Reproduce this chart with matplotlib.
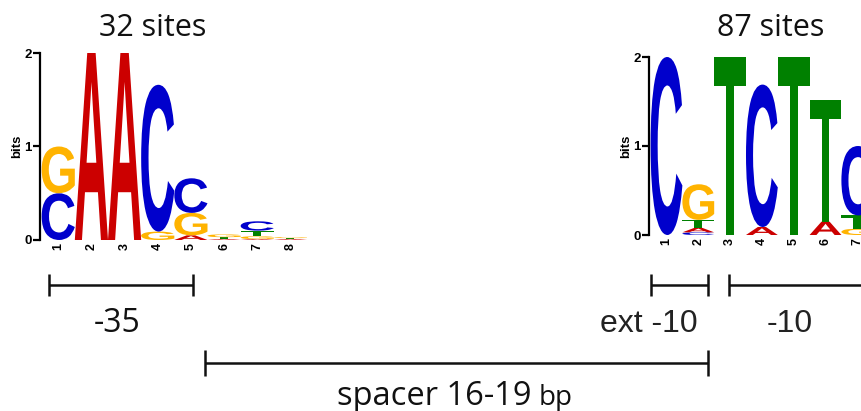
import matplotlib
matplotlib.use("Agg")
import matplotlib.pyplot as plt
from matplotlib.font_manager import FontProperties
from matplotlib.patches import PathPatch
from matplotlib.path import Path
from matplotlib.textpath import TextPath

W, H = 862, 411

# -35 box motif: letters stacked bottom -> top with their heights in bits
LEFT_TITLE = "32 sites"
LEFT_LETTERS = [["C", "G"], ["A"], ["A"], ["G", "C"], ["A", "G", "C"],
                ["A", "T", "G"], ["A", "G", "T", "C"], ["A", "T", "G"]]
LEFT_HEIGHTS = [[0.50, 0.50], [2.0], [2.0], [0.09, 1.57], [0.05, 0.24, 0.37],
                [0.01, 0.02, 0.03], [0.01, 0.03, 0.06, 0.10], [0.01, 0.01, 0.01]]

# extended -10 / -10 motif
RIGHT_TITLE = "87 sites"
RIGHT_LETTERS = [["C"], ["C", "A", "T", "G"], ["T"], ["A", "C"], ["T"],
                 ["A", "T"], ["G", "T", "C"]]
RIGHT_HEIGHTS = [[2.0], [0.03, 0.05, 0.09, 0.40], [2.0], [0.09, 1.60], [2.0],
                 [0.15, 1.37], [0.07, 0.15, 0.78]]

BASE_COLORS = {"A": "#cc0000", "C": "#0000cc", "G": "#ffb300", "T": "#008000"}

LOGO_FONT = FontProperties(family="Liberation Sans", weight="bold")
_glyph_cache = {}


def glyph(base):
    """Unit-box normalised outline of a letter."""
    if base not in _glyph_cache:
        tp = TextPath((0, 0), base, size=1, prop=LOGO_FONT)
        ext = tp.get_extents()
        verts = tp.vertices.copy()
        verts[:, 0] = (verts[:, 0] - ext.x0) / ext.width
        verts[:, 1] = (verts[:, 1] - ext.y0) / ext.height
        _glyph_cache[base] = (verts, tp.codes)
    return _glyph_cache[base]


def draw_letter(ax, base, xc, y0, height, width=1.0):
    verts, codes = glyph(base)
    v = verts.copy()
    v[:, 0] = xc - width / 2 + v[:, 0] * width
    v[:, 1] = y0 + v[:, 1] * height
    ax.add_patch(PathPatch(Path(v, codes), facecolor=BASE_COLORS[base],
                           edgecolor="none", lw=0))


def logo_axes(fig, left, right, y_zero, y_two, ncols):
    ax = fig.add_axes([left / W, 1 - y_zero / H, (right - left) / W,
                       (y_zero - y_two) / H])
    ax.set_facecolor("none")
    ax.set_xlim(0.45, ncols + 0.5)
    ax.set_ylim(0, 2)
    for side in ["top", "right", "bottom"]:
        ax.spines[side].set_visible(False)
    ax.spines["left"].set_linewidth(1.6)
    ax.set_yticks([0, 1, 2])
    ax.set_yticklabels(["0", "1", "2"], fontsize=9.5, fontweight="bold",
                       family="Liberation Sans")
    ax.tick_params(axis="y", length=5, width=1.6, pad=1)
    ax.set_xticks(range(1, ncols + 1))
    ax.set_xticklabels([str(i) for i in range(1, ncols + 1)], rotation=90,
                       fontsize=9, fontweight="bold", family="Liberation Sans")
    ax.tick_params(axis="x", length=0, pad=2)
    ax.set_ylabel("bits", fontsize=9.5, fontweight="bold",
                  family="Liberation Sans", labelpad=1)
    return ax


def draw_logo(ax, letters, heights):
    for i, (col_letters, col_heights) in enumerate(zip(letters, heights)):
        y = 0.0
        for base, h in zip(col_letters, col_heights):
            draw_letter(ax, base, i + 1, y, h)
            y += h


def bracket(ax, x0, x1, y, half=11, lw=1.8):
    ax.plot([x0, x1], [y, y], color="#111111", lw=lw, solid_capstyle="butt")
    for x in (x0, x1):
        ax.plot([x, x], [y - half, y + half], color="#111111", lw=lw,
                solid_capstyle="butt")


fig = plt.figure(figsize=(W / 100, H / 100), dpi=100)

# overlay in pixel units for titles and region brackets
over = fig.add_axes([0, 0, 1, 1])
over.set_xlim(0, W)
over.set_ylim(H, 0)
over.axis("off")

over.text(153, 36, LEFT_TITLE, ha="center", va="baseline", fontsize=22,
          family="Open Sans", color="#111111")
over.text(771, 36, RIGHT_TITLE, ha="center", va="baseline", fontsize=22,
          family="Open Sans", color="#111111")

bracket(over, 49, 193, 285)
bracket(over, 651, 708, 285)
bracket(over, 729, 920, 285)
bracket(over, 205, 708, 363, half=13)

over.text(117, 332, "-35", ha="center", va="baseline", fontsize=23,
          family="Open Sans", color="#111111")
over.text(698, 332, "ext -10", ha="right", va="baseline", fontsize=23,
          family="Liberation Sans", color="#222222")
over.text(790, 332, "-10", ha="center", va="baseline", fontsize=23,
          family="Liberation Sans", color="#222222")
over.text(337, 405, "spacer 16-19", ha="left", va="baseline", fontsize=23.5,
          family="Open Sans", color="#111111")
over.text(539, 405, "bp", ha="left", va="baseline", fontsize=20,
          family="Open Sans", color="#111111")

ax_left = logo_axes(fig, 40, 307, 240, 53, len(LEFT_LETTERS))
draw_logo(ax_left, LEFT_LETTERS, LEFT_HEIGHTS)

ax_right = logo_axes(fig, 649, 649 + 32 * 8, 235, 57, 8)
draw_logo(ax_right, RIGHT_LETTERS, RIGHT_HEIGHTS)

fig.savefig("out.png", dpi=100)
